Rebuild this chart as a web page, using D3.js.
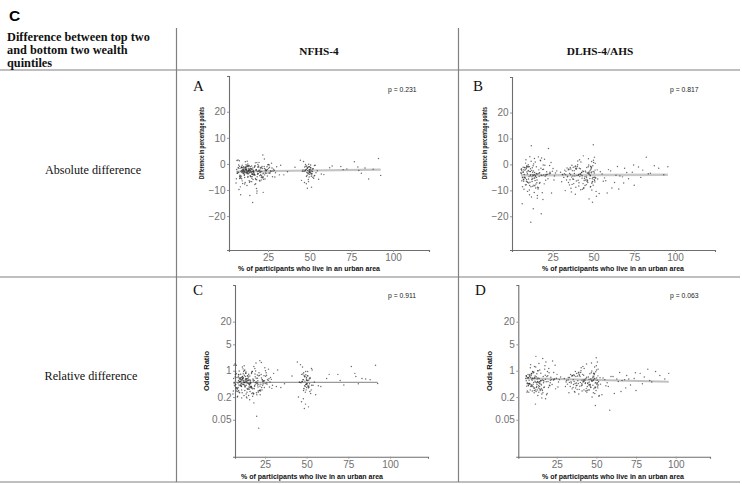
<!DOCTYPE html>
<html><head><meta charset="utf-8">
<script src="https://cdn.jsdelivr.net/npm/d3@7"></script>
<style>html,body{margin:0;padding:0;background:#fff}svg{display:block}</style>
</head><body>
<svg id="fig" width="742" height="484"></svg>
<script>
// ---------- data ----------
const rowLabels = ["Absolute difference", "Relative difference"];
const colLabels = ["NFHS-4", "DLHS-4/AHS"];
const headerLines = ["Difference between top two", "and bottom two wealth", "quintiles"];
const panelLetters = ["A", "B", "C", "D"];
const pValues = ["p = 0.231", "p = 0.817", "p = 0.911", "p = 0.063"];
const xTicks = [25, 50, 75, 100];
const absTicks = [20, 10, 0, -10, -20];
const orTicks = [20, 5, 1, 0.2, 0.05];
const xTitle = "% of participants who live in an urban area";
const absTitle = "Difference in percentage points";
const orTitle = "Odds Ratio";

// NFHS-4 districts: % urban
const nfhsUrban = [6.2,8.1,11.4,13.7,9.3,15.2,18.6,7.4,12.9,20.3,22.8,10.5,14.1,16.8,25.4,9.8,11.9,19.2,23.7,27.1,
8.6,13.3,17.5,21.4,6.9,15.8,12.2,10.1,24.6,28.3,14.7,18.1,7.8,11.1,20.9,16.2,13.0,9.1,22.1,26.5,
12.6,15.5,8.3,19.7,30.2,10.8,17.1,14.4,21.9,11.6,6.5,23.2,13.9,18.9,9.5,16.5,12.4,25.9,20.6,10.3,
15.0,7.2,29.1,14.9,19.4,11.3,22.5,17.8,8.9,13.5,24.1,16.0,10.6,21.1,31.8,12.0,18.3,9.6,15.3,26.9,
13.2,7.6,20.0,11.8,17.3,23.9,14.2,10.0,19.0,27.7,12.7,16.3,8.4,21.7,15.7,11.0,24.9,13.8,18.7,5.8,
20.4,14.6,9.9,22.3,17.0,12.3,28.8,16.6,10.4,19.9,13.1,25.1,7.0,15.9,21.2,11.5,18.4,14.0,23.4,9.2,
16.9,12.8,32.6,20.7,10.9,17.6,13.6,26.2,15.1,8.0,
47.2,49.5,50.8,48.1,51.6,46.3,49.9,52.4,48.7,50.2,45.1,53.3,49.1,47.8,51.1,50.5,48.4,54.6,46.9,49.6,
52.0,50.0,47.5,51.9,48.9,44.4,53.8,49.3,50.7,46.6,52.7,48.2,51.4,49.8,55.4,47.0,50.3,48.6,51.2,49.4,
58.5,62.0,68.7,76.8,78.9,79.5,81.0,85.4,88.1,91.3,92.6,72.3,34.5,41.2,
7.1,9.4,12.1,14.8,17.4,19.8,22.0,24.4,8.7,11.2,13.4,15.6,18.2,20.5,23.0,10.2,12.5,6.7,16.1,21.6,
9.0,14.3,17.9,25.7,11.7,13.9,8.2,19.3,15.4,22.7,10.7,6.0,18.0,12.9,16.7,27.4,14.5,9.7,20.1,11.4,
13.0,23.6,7.9,17.2,15.1,21.0,10.0,12.2,19.6,28.0,8.5,14.1,16.4,11.0,24.0,13.6,18.8,9.3,22.2,15.8,
7.4,12.6,20.8,10.5,17.7,14.7,26.0,11.8,9.1,16.0,19.1,13.2,23.3,8.0,15.2,21.3,12.0,18.5,10.9,29.5,
14.0,6.4,17.0,11.5,20.2,13.7,24.7,9.5,16.2,12.4,22.9,15.5,8.8,18.3,10.3,14.4,21.8,13.1,25.3,11.1,
48.0,50.1,49.0,51.3,47.4,50.6,48.8,52.1,49.7,46.0,50.9,48.5,51.7,49.2,47.7,53.0,50.4,48.3,49.9,51.0,
45.6,52.9,49.5,50.0,48.0,36.7,63.5,70.1,83.2,57.0];
// NFHS-4: absolute difference (percentage points)
const nfhsAbsDiff = [-2.1,-4.3,0.8,-3.5,-1.2,-6.8,-2.9,-0.4,-5.1,-3.3,1.9,-2.6,-12.1,-4.0,-1.7,-7.5,-1.5,-3.8,-2.2,0.3,
-11.8,-2.4,-5.6,-1.0,-3.1,-14.8,-0.9,-3.7,-4.6,-2.0,-1.8,-9.4,1.2,-2.8,-6.2,-3.0,-4.8,-1.4,-10.9,-2.7,
-0.6,-3.9,-5.3,-2.3,-1.1,-4.4,-7.9,-2.5,3.4,-1.9,-3.6,-5.8,-2.2,-0.2,-6.5,-3.2,-8.3,-1.3,-4.1,-2.0,
-3.4,-1.6,-5.0,-2.9,-0.8,-7.1,-3.5,-2.4,-4.7,-1.0,-2.6,-6.0,-3.8,-1.5,-4.2,-2.1,0.5,-3.0,-5.5,-2.8,
-1.7,-9.8,-4.5,-2.3,-0.7,-3.6,-6.7,-2.0,-1.2,-4.9,-3.3,-2.5,-8.8,-1.8,-3.9,-5.2,-0.3,-2.7,-4.0,-7.3,
-1.4,-3.1,-2.2,-5.9,-0.9,-3.7,-2.4,-4.3,-1.1,-6.3,-2.9,-3.5,1.5,-1.6,-4.6,-2.0,-10.4,-3.2,-2.6,-5.7,
-1.3,-3.8,-0.5,-2.8,-4.1,-7.6,-2.3,-3.4,-1.9,-4.8,
-2.4,-1.1,-3.6,-4.8,-2.0,0.9,-3.2,-5.5,-1.7,-2.8,-6.3,-0.5,-3.9,-2.2,-8.9,-1.4,-4.4,-2.6,-7.1,-3.0,
-1.9,-4.0,-0.2,-5.1,-2.5,1.4,-3.4,-6.8,-1.6,-2.9,-4.6,-0.8,-3.7,-2.1,-5.9,-1.2,-3.3,-9.3,-2.7,-0.1,
-4.1,-1.5,-1.0,0.8,-1.2,-2.5,-3.6,-5.8,-2.0,2.1,-4.4,-1.9,-4.2,-1.3,
-1.5,-3.3,-2.0,-4.9,0.4,-2.6,-3.8,-1.1,-5.4,-2.2,-0.7,-3.0,-6.1,-1.9,-4.2,-2.5,1.0,-3.6,-2.9,-5.0,
-1.3,-4.5,-2.1,-0.4,-3.4,-7.0,-1.7,-2.8,-4.0,-1.0,-3.1,-5.7,-2.3,0.0,-3.9,-1.6,-4.7,-2.6,-6.6,-1.2,
-2.9,-3.5,-0.9,-4.3,-2.0,-5.2,-1.4,-3.2,0.6,-2.7,-4.6,-1.8,-3.0,-7.7,-2.4,-0.6,-3.7,-1.5,-5.0,-2.2,
-3.3,-1.0,-4.4,-2.8,-6.0,-1.9,-3.6,-0.3,-2.5,-4.1,-1.2,-3.8,-2.0,-5.6,-0.8,-3.0,-2.6,-4.9,-1.6,-3.4,
-2.3,1.3,-4.0,-1.4,-3.1,-6.4,-2.1,-0.5,-3.9,-2.7,-1.7,-4.8,-2.9,-11.2,-3.5,-1.1,-5.3,-2.4,-0.2,-3.2,
-2.0,-3.1,-1.3,-4.2,-2.6,-0.4,-3.5,-1.8,-5.0,-2.3,-3.8,-1.5,-2.9,-6.0,-0.9,-4.4,-2.2,-3.3,-1.1,-4.7,
-2.8,-0.6,-3.6,-2.4,-7.6,-3.0,-0.8,-2.2,-1.6,-3.9];
// NFHS-4: odds ratio
const nfhsOddsRatio = [0.62,0.35,1.25,0.41,0.78,0.22,0.55,0.93,0.30,0.47,1.65,0.58,0.19,0.38,0.71,0.26,0.83,0.44,0.52,1.10,
0.21,0.60,0.33,0.88,0.49,0.17,0.95,0.40,0.36,0.66,0.74,0.24,1.40,0.56,0.29,0.50,0.37,0.80,0.23,0.59,
1.02,0.43,0.32,0.63,0.85,0.39,0.25,0.54,1.85,0.69,0.45,0.31,0.61,1.15,0.27,0.48,0.22,0.76,0.42,0.64,
0.46,0.79,0.34,0.57,0.98,0.26,0.44,0.60,0.36,0.86,0.53,0.28,0.41,0.73,0.38,0.65,1.30,0.51,0.33,0.55,
0.70,0.35,0.062,0.62,0.96,0.45,0.27,0.58,0.82,0.37,0.49,0.56,0.20,0.75,0.42,0.31,1.20,0.53,0.39,0.24,
0.77,0.47,0.61,0.29,0.90,0.43,0.59,0.36,0.81,0.26,0.52,0.46,1.50,0.72,0.030,0.63,0.34,0.48,0.57,0.30,
0.84,0.40,1.05,0.54,0.38,0.21,0.60,0.44,0.68,0.35,
0.52,0.78,0.40,0.30,0.61,1.45,0.45,0.25,0.69,0.55,0.20,1.05,0.38,0.58,0.11,0.74,0.33,0.50,0.15,0.43,
0.66,0.36,1.25,0.28,0.53,1.70,0.41,0.13,0.72,0.48,0.31,0.88,0.39,0.60,0.23,0.80,0.46,0.10,0.56,0.95,
0.38,0.62,0.80,1.30,0.85,0.70,0.45,0.60,0.58,1.40,0.46,0.42,0.36,0.72,
0.68,0.42,0.55,0.33,0.95,0.50,0.39,0.74,0.28,0.58,0.86,0.45,0.25,0.63,0.36,0.52,1.35,0.40,0.47,0.30,
0.71,0.34,0.57,0.88,0.43,0.20,0.66,0.49,0.37,0.79,0.46,0.29,0.53,1.05,0.38,0.61,0.32,0.51,0.23,0.70,
0.48,0.41,0.83,0.35,0.56,0.27,0.64,0.44,1.60,0.50,0.34,0.60,0.45,0.19,0.54,0.92,0.40,0.65,0.31,0.57,
0.43,0.76,0.37,0.52,0.26,0.62,0.47,1.12,0.55,0.36,0.69,0.39,0.58,0.29,0.81,0.44,0.50,0.33,0.66,0.41,
0.53,1.40,0.35,0.60,0.46,0.24,0.54,0.98,0.38,0.49,0.64,0.32,0.47,0.14,0.42,0.72,0.30,0.56,1.00,0.45,
0.58,0.44,0.70,0.36,0.52,0.95,0.40,0.62,0.31,0.49,0.38,0.75,0.45,0.27,0.82,0.41,0.55,0.34,0.66,0.35,
0.50,1.15,0.43,0.57,0.18,0.45,0.80,0.55,0.62,0.40];

// DLHS-4/AHS districts: % urban
const dlhsUrban = [5.5,7.2,9.8,12.3,14.6,8.4,11.1,16.9,19.5,6.3,10.2,13.8,21.7,24.3,9.1,15.4,7.9,12.8,17.6,26.1,
11.6,6.8,14.0,20.2,8.8,13.1,22.9,10.7,16.2,5.9,18.4,12.0,9.4,27.5,15.0,7.5,11.9,23.6,13.5,8.1,
19.0,10.5,16.5,6.1,14.3,21.0,9.6,12.6,25.2,17.2,7.0,11.3,15.7,8.6,13.9,20.7,10.0,18.0,6.6,12.1,
22.4,9.0,14.9,16.0,7.7,11.5,19.8,13.3,24.8,8.2,10.8,15.2,5.7,12.4,17.9,9.3,14.1,21.3,7.3,11.0,
26.7,13.7,16.7,8.9,10.3,18.8,6.4,15.6,12.7,23.1,9.7,14.5,20.0,11.7,7.6,
31.2,34.5,37.8,40.1,43.6,46.2,48.9,50.3,36.2,42.0,45.5,49.2,33.1,38.9,47.4,51.1,35.6,41.3,44.8,48.1,
29.8,39.5,46.9,50.8,32.7,37.1,43.0,49.6,36.9,41.9,45.9,51.8,34.0,40.6,47.7,49.9,38.3,44.1,48.5,52.6,
35.0,39.9,46.5,50.0,30.5,42.7,47.1,49.4,37.4,43.9,48.3,51.4,33.8,40.9,45.2,50.6,36.5,42.4,47.9,49.0,
38.7,44.5,48.7,53.5,34.9,41.6,46.0,50.1,32.2,39.2,45.0,49.7,37.6,43.3,48.0,51.0,35.3,40.4,46.7,50.4,
39.0,44.3,47.3,54.2,36.0,42.2,48.6,49.3,55.3,41.1,
56.8,58.4,60.5,62.9,64.7,66.2,69.1,71.5,73.8,75.0,77.6,80.2,82.4,84.9,57.5,61.3,67.8,87.3,93.1,95.6,
6.0,8.0,10.4,12.9,15.3,17.8,20.4,7.4,9.2,11.8,14.2,16.6,19.2,22.1,8.5,10.9,13.4,6.9,15.9,18.6,
12.2,9.9,24.0,7.8,14.7,11.4,17.0,8.9,13.0,20.9,10.1,6.5,15.1,12.5,9.5,18.2,11.1,14.4,7.1,16.3,
23.3,10.6,13.6,8.3,19.4,12.8,5.8,15.6,11.2,25.8,9.0,14.0,17.4,7.0,13.2,
30.9,33.5,36.1,38.6,41.0,43.4,45.8,48.2,50.5,34.7,39.7,44.7,49.0,32.3,37.3,42.3,47.2,50.9,35.8,40.8,
45.3,49.8,31.8,36.8,41.8,46.4,48.4,51.6,34.2,39.1,43.8,47.8,50.2,37.9,42.8,46.8,49.5,33.0,38.2,44.0,
48.8,51.2,35.4,40.3,45.6,49.1,36.6,41.5,47.0,50.7,39.4,43.1,48.1,52.3,46.1,
56.0,59.2,63.8,65.5,70.4,74.6,79.0,83.6,90.0,68.5];
// DLHS-4/AHS: absolute difference
const dlhsAbsDiff = [-3.2,-6.5,-1.0,-4.8,-9.1,0.5,-2.7,-7.3,-4.1,-15.2,-5.6,2.3,-3.8,-11.0,-0.6,-6.0,-2.2,-8.4,1.4,-4.5,
-22.3,-3.0,-5.2,-0.3,-7.8,-17.1,-3.6,-9.9,2.9,-1.8,-4.3,-12.6,-6.8,-2.5,-0.9,-5.0,7.2,-3.4,-8.0,-1.3,
-13.5,-4.7,-2.1,-6.3,0.9,-3.9,-10.4,-5.5,-1.6,-7.0,-2.9,-4.4,-8.8,1.8,-3.1,-6.1,-0.1,-19.0,-4.9,-2.3,
6.1,-5.8,-3.5,-9.5,-1.2,-4.0,-7.5,0.2,-2.6,-5.3,-11.7,-3.7,-1.9,-6.6,-4.2,-0.7,-8.2,-2.8,-5.9,3.0,
-3.3,-10.8,-4.6,-1.5,-7.2,-2.0,-5.1,-13.0,-3.0,-0.4,-6.9,-4.4,2.0,-8.6,-3.9,
-4.0,-2.1,-5.7,-0.8,-7.4,-3.3,1.1,-5.0,-9.2,-1.7,-4.6,-6.8,-2.6,-11.5,-3.8,0.4,-5.9,-1.5,-8.1,-4.2,
-3.0,-6.4,2.2,-4.9,-10.1,-2.4,-5.3,-0.5,-7.7,-3.6,-1.2,-12.3,-4.8,-6.1,-2.9,7.6,-3.5,-9.0,-1.0,-5.6,
-2.0,-4.3,-7.0,1.6,-6.7,-3.1,-0.2,-14.6,-4.5,-2.7,-8.5,-5.2,-1.4,-3.9,-6.0,2.8,-10.6,-4.1,-2.3,-7.3,
-0.9,-5.4,-3.2,-11.2,-1.8,-4.7,-6.5,0.7,-3.6,-8.8,-2.5,-5.0,-1.1,-9.6,-4.4,-2.2,-7.9,1.3,-3.4,-5.8,
-0.6,-6.2,-13.3,-2.8,-4.0,-9.8,-1.6,-5.5,-3.7,-7.1,
-5.2,-11.0,-2.5,-7.0,-0.8,-4.5,-1.5,-5.5,-3.0,-8.0,-1.0,-2.2,2.8,-3.4,-6.3,-9.1,-4.8,-0.5,-4.0,-0.9,
-2.4,-5.1,-0.8,-3.9,-7.1,-1.5,-4.6,-9.6,-2.9,1.2,-6.2,-3.4,-0.2,-5.5,-2.0,-8.1,-4.3,-1.1,-3.7,-10.9,
-5.8,-2.6,0.7,-4.9,-7.6,-1.7,-3.2,-6.5,-0.5,-4.1,-2.3,-8.6,-5.0,-1.3,-3.6,2.5,-6.9,-4.7,-2.1,-9.0,
-3.0,-0.9,-5.3,-7.9,-1.9,-4.4,-3.5,-12.0,-2.7,-6.0,-1.0,-4.0,1.6,-5.7,-2.5,
-3.9,-6.0,-1.8,-4.5,-8.3,-2.5,-5.1,-0.7,-3.3,-7.0,-1.5,-4.8,-9.9,-2.2,-5.6,0.9,-3.6,-6.8,-1.2,-4.2,
-2.9,-8.0,-5.0,-0.3,-3.8,-6.3,-2.0,-10.4,-4.6,-1.6,3.3,-5.4,-2.7,-7.4,-3.1,-0.9,-6.6,-4.0,-2.4,-9.2,
-1.1,-5.2,-3.5,-0.1,-7.8,-2.8,-4.9,1.8,-3.0,-6.2,-1.9,-4.4,-8.7,-2.1,-5.9,
-6.5,-2.0,-4.2,-9.5,-3.1,-0.2,-5.0,-3.6,-1.5,-7.2];
// DLHS-4/AHS: odds ratio
const dlhsOddsRatio = [0.62,0.40,0.95,0.48,0.30,1.20,0.66,0.36,0.52,0.27,0.44,1.55,0.58,0.33,0.82,0.42,0.71,0.31,1.35,0.50,
0.13,0.64,0.45,0.88,0.38,0.22,0.57,0.34,2.10,0.74,0.51,0.28,0.41,0.68,0.86,0.46,2.40,0.60,0.35,0.78,
0.25,0.49,0.70,0.39,1.05,0.56,0.29,0.43,0.80,0.37,0.65,0.53,0.32,1.45,0.61,0.40,0.92,0.18,0.47,0.69,
1.80,0.42,0.55,0.30,0.77,0.50,0.36,1.00,0.63,0.44,0.26,0.54,0.73,0.38,0.59,0.85,0.33,0.67,0.45,1.30,
0.58,0.27,0.48,0.75,0.37,0.70,0.46,0.24,0.60,0.90,0.39,0.52,1.15,0.31,0.56,
0.55,0.72,0.41,0.90,0.34,0.60,1.25,0.45,0.28,0.76,0.50,0.37,0.66,0.24,0.53,1.10,0.43,0.80,0.31,0.58,
0.62,0.39,1.60,0.48,0.26,0.70,0.46,0.94,0.35,0.57,0.83,0.22,0.51,0.40,0.65,2.20,0.54,0.30,0.86,0.44,
0.74,0.49,0.36,1.35,0.38,0.59,0.98,0.12,0.47,0.67,0.33,0.52,0.79,0.56,0.42,1.70,0.27,0.53,0.71,0.35,
0.88,0.46,0.61,0.23,0.75,0.50,0.40,1.05,0.57,0.32,0.68,0.49,0.84,0.29,0.55,0.73,0.36,1.20,0.60,0.44,
0.91,0.38,0.20,0.64,0.52,0.31,0.78,0.47,0.58,0.42,
0.48,0.09,0.70,0.60,0.90,0.55,0.75,0.42,0.62,0.30,0.85,0.68,1.10,0.50,0.38,0.25,0.58,0.95,0.60,0.85,
0.70,0.45,0.88,0.52,0.34,0.76,0.41,0.27,0.60,1.25,0.38,0.55,0.95,0.43,0.67,0.30,0.49,0.80,0.57,0.23,
0.36,0.63,1.40,0.46,0.32,0.72,0.53,0.39,1.00,0.48,0.61,0.29,0.44,0.83,0.56,1.70,0.35,0.47,0.66,0.26,
0.58,0.92,0.40,0.31,0.74,0.50,0.54,0.19,0.62,0.37,0.85,0.51,1.10,0.42,0.64,
0.50,0.38,0.74,0.46,0.29,0.62,0.43,0.85,0.56,0.33,0.70,0.48,0.25,0.66,0.40,1.15,0.53,0.35,0.78,0.45,
0.59,0.30,0.44,0.95,0.52,0.37,0.68,0.21,0.47,0.81,1.50,0.41,0.64,0.32,0.55,0.88,0.36,0.49,0.72,0.27,
0.83,0.42,0.58,1.00,0.31,0.61,0.46,1.30,0.54,0.39,0.76,0.48,0.26,0.65,0.43,
0.40,0.70,0.52,0.28,0.60,0.88,0.45,0.55,0.75,0.35];

// fitted regression lines (end points)
const nfhsAbsFit = [[5.8, -2.9], [92.6, -2.2]];
const dlhsAbsFit = [[5.5, -4.2], [95.6, -4.0]];
const nfhsOrFit = [[5.8, 0.49], [92.6, 0.49]];
const dlhsOrFit = [[5.5, 0.63], [95.6, 0.51]];

// ---------- drawing ----------
const svg = d3.select("#fig");
const SERIF = "'Liberation Serif','Times New Roman',serif";
const SANS = "'Liberation Sans',Arial,sans-serif";
const gridCol = "#808080";

svg.append("text").attr("x", 9).attr("y", 21).attr("font-family", SANS)
  .attr("font-weight", "bold").attr("font-size", 15.5).text("C");

// table lines
[70, 277, 482].forEach(y => svg.append("line").attr("x1", 0).attr("x2", 740)
  .attr("y1", y).attr("y2", y).attr("stroke", gridCol).attr("stroke-width", 1.2));
[176.5, 458.5].forEach(x => svg.append("line").attr("x1", x).attr("x2", x)
  .attr("y1", 28).attr("y2", 482).attr("stroke", gridCol).attr("stroke-width", 1.2));

// header
const hdr = svg.append("text").attr("font-family", SERIF).attr("font-weight", "bold")
  .attr("font-size", 12.3).attr("fill", "#111");
headerLines.forEach((t, i) => hdr.append("tspan").attr("x", 7).attr("y", 40.8 + i * 13.3).text(t));
[[319, colLabels[0]], [600, colLabels[1]]].forEach(([x, t]) =>
  svg.append("text").attr("x", x).attr("y", 55).attr("text-anchor", "middle")
    .attr("font-family", SERIF).attr("font-weight", "bold").attr("font-size", 11.3).attr("fill", "#111").text(t));
[[93, 174, rowLabels[0]], [91, 380, rowLabels[1]]].forEach(([x, y, t]) =>
  svg.append("text").attr("x", x).attr("y", y).attr("text-anchor", "middle")
    .attr("font-family", SERIF).attr("font-size", 12.2).attr("fill", "#111").text(t));

// panels
const panels = [
  {xs: nfhsUrban, ys: nfhsAbsDiff, fit: nfhsAbsFit, log: false,
   xd: [1.6, 121.6], xr: [229, 429], yd: [-33, 33.7], yr: [250, 76],
   ytitle: absTitle, ytx: 203.5, yty: 143, ytLen: 72, xtx: 309, xtitleY: 270.5,
   letter: [193, 90.7], p: [388, 92.3], lineCol: "#c4c4c4", lineW: 2.2},
  {xs: dlhsUrban, ys: dlhsAbsDiff, fit: dlhsAbsFit, log: false,
   xd: [0.06, 124.5], xr: [512, 715], yd: [-33, 33.7], yr: [250, 77],
   ytitle: absTitle, ytx: 487, yty: 143, ytLen: 72, xtx: 613, xtitleY: 270.5,
   letter: [473, 90.5], p: [670, 91.7], lineCol: "#c8c8c8", lineW: 2.4},
  {xs: nfhsUrban, ys: nfhsOddsRatio, fit: nfhsOrFit, log: true,
   xd: [7.0, 122.8], xr: [235, 428], yd: [0.00524, 187.6], yr: [456.7, 285],
   ytitle: orTitle, ytx: 209, yty: 371, ytLen: null, xtx: 312, xtitleY: 479.3,
   letter: [193, 295], p: [388, 298], lineCol: "#9a9a9a", lineW: 1.1},
  {xs: dlhsUrban, ys: dlhsOddsRatio, fit: dlhsOrFit, log: true,
   xd: [0.8, 121.6], xr: [518.3, 710], yd: [0.00524, 187.6], yr: [456.7, 285],
   ytitle: orTitle, ytx: 492, yty: 371, ytLen: null, xtx: 613, xtitleY: 479.3,
   letter: [475, 294.5], p: [670, 297.7], lineCol: "#c0c0c0", lineW: 2.2}
];

panels.forEach((P, k) => {
  const x = d3.scaleLinear().domain(P.xd).range(P.xr);
  const y = (P.log ? d3.scaleLog() : d3.scaleLinear()).domain(P.yd).range(P.yr);
  const g = svg.append("g");

  const xAxis = d3.axisBottom(x).tickValues(xTicks).tickSize(2).tickPadding(2).tickFormat(d3.format("d"));
  const yAxis = d3.axisLeft(y).tickValues(P.log ? orTicks : absTicks).tickSize(2).tickPadding(1.5)
    .tickFormat(d => P.log ? String(d) : (d < 0 ? "\u2212" + Math.abs(d) : String(d)));
  const gx = g.append("g").attr("transform", `translate(0,${P.yr[0]})`).call(xAxis);
  const gy = g.append("g").attr("transform", `translate(${P.xr[0]},0)`).call(yAxis);
  [gx, gy].forEach(a => {
    a.select(".domain").attr("stroke", "#6e6e6e").attr("stroke-width", 1.1);
    a.selectAll(".tick line").attr("stroke", "#999");
    a.selectAll(".tick text").attr("font-family", SANS).attr("font-size", 10).attr("fill", "#707070");
  });

  g.append("path").datum(P.fit)
    .attr("d", d3.line().x(d => x(d[0])).y(d => y(d[1])))
    .attr("stroke", P.lineCol).attr("stroke-width", P.lineW).attr("fill", "none");

  const n = Math.min(P.xs.length, P.ys.length);
  const pts = d3.range(n).map(i => [P.xs[i], P.ys[i]]);
  g.append("g").selectAll("circle").data(pts).join("circle")
    .attr("cx", d => x(d[0])).attr("cy", d => y(d[1])).attr("r", 0.72)
    .attr("fill", "#2a2a2a").attr("fill-opacity", 0.7);

  g.append("text").attr("x", P.xtx).attr("y", P.xtitleY)
    .attr("text-anchor", "middle").attr("font-family", SANS).attr("font-weight", "bold")
    .attr("font-size", 7).attr("fill", "#111").text(xTitle);
  const yt = g.append("text").attr("transform", `translate(${P.ytx},${P.yty}) rotate(-90)`)
    .attr("text-anchor", "middle").attr("font-family", SANS).attr("font-weight", "bold")
    .attr("font-size", 7.5).attr("fill", "#111").text(P.ytitle);
  if (P.ytLen) yt.attr("textLength", P.ytLen).attr("lengthAdjust", "spacingAndGlyphs");

  g.append("text").attr("x", P.letter[0]).attr("y", P.letter[1]).attr("font-family", SERIF)
    .attr("font-size", 15).attr("fill", "#111").text(panelLetters[k]);
  g.append("text").attr("x", P.p[0]).attr("y", P.p[1]).attr("font-family", SANS)
    .attr("font-size", 6.8).attr("fill", "#222").text(pValues[k]);
});
</script>
</body></html>
